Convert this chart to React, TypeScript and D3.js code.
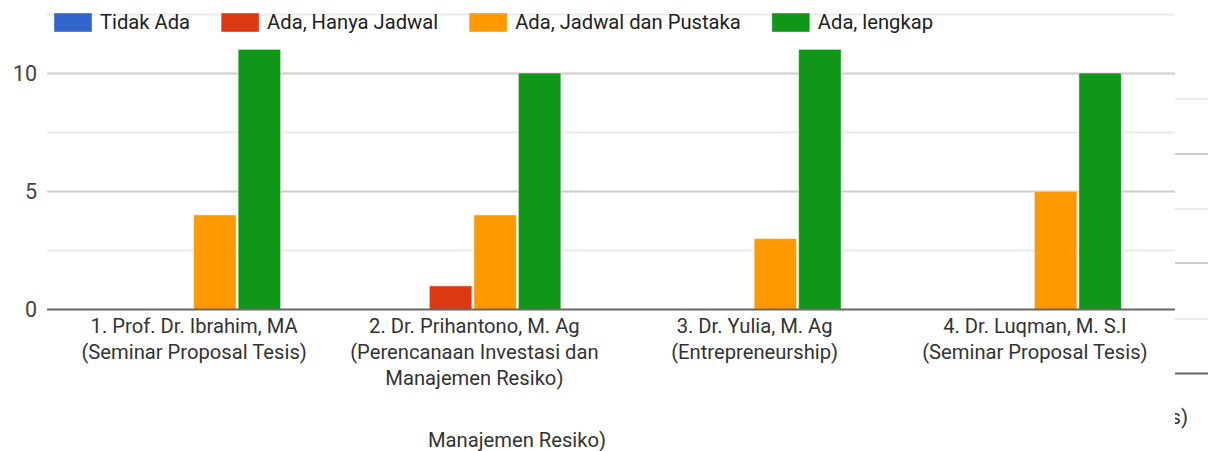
import React, { useEffect, useRef } from "react";
import * as d3 from "d3";

const categories = [
  ["1. Prof. Dr. Ibrahim, MA", "(Seminar Proposal Tesis)"],
  ["2. Dr. Prihantono, M. Ag", "(Perencanaan Investasi dan", "Manajemen Resiko)"],
  ["3. Dr. Yulia, M. Ag", "(Entrepreneurship)"],
  ["4. Dr. Luqman, M. S.I", "(Seminar Proposal Tesis)"],
];
const seriesNames = ["Tidak Ada", "Ada, Hanya Jadwal", "Ada, Jadwal dan Pustaka", "Ada, lengkap"];
const tidakAda = [0, 0, 0, 0];
const hanyaJadwal = [0, 1, 0, 0];
const jadwalPustaka = [4, 4, 3, 5];
const lengkap = [11, 10, 11, 10];
const colors = ["#3366cc", "#dc3912", "#ff9900", "#109618"];
const majorTicks = [0, 5, 10];
const minorTicks = [2.5, 7.5, 12.5];

const W = 1208;
const H = 451;
const FONT = "Roboto, Arial, sans-serif";
const FS_LEG = 20.2;
const FS_LAB = 20.2;
const FS_TICK = 21.5;

export default function App() {
  const ref = useRef<SVGSVGElement>(null);
  useEffect(() => {
    const svg = d3.select(ref.current);
    svg.selectAll("*").remove();
    const series = [tidakAda, hanyaJadwal, jadwalPustaka, lengkap];

    const gridLeft = 47, gridRight = 1175;
    const x0 = d3.scaleBand<number>().domain(d3.range(categories.length)).range([52.5, 1173.5]).paddingInner(0.372).paddingOuter(0.186);
    const x1 = d3.scaleBand<number>().domain(d3.range(series.length)).range([0, x0.bandwidth()]).paddingInner(0.045);
    const y = d3.scaleLinear().domain([0, 12.5]).range([309.5, 13.9]);

    const defs = svg.append("defs");
    defs.append("clipPath").attr("id", "rightClip").append("rect")
      .attr("x", gridRight).attr("y", 0).attr("width", W - gridRight).attr("height", H);

    svg.append("g").selectAll("line").data(minorTicks).join("line")
      .attr("x1", gridLeft).attr("x2", gridRight)
      .attr("y1", (d) => Math.round(y(d)) + 0.5).attr("y2", (d) => Math.round(y(d)) + 0.5)
      .attr("stroke", "#ebebeb").attr("stroke-width", 2);
    svg.append("g").selectAll("line").data(majorTicks.filter((d) => d !== 0)).join("line")
      .attr("x1", gridLeft).attr("x2", gridRight)
      .attr("y1", (d) => Math.round(y(d)) + 0.5).attr("y2", (d) => Math.round(y(d)) + 0.5)
      .attr("stroke", "#cccccc").attr("stroke-width", 2);

    // right-side artifact (overlapping chart behind)
    const art = svg.append("g").attr("clip-path", "url(#rightClip)");
    const artLight = [99, 209, 319];
    const artDark = [154, 263];
    art.append("g").selectAll("line").data(artLight).join("line")
      .attr("x1", gridRight).attr("x2", W).attr("y1", (d) => d).attr("y2", (d) => d)
      .attr("stroke", "#ebebeb").attr("stroke-width", 2);
    art.append("g").selectAll("line").data(artDark).join("line")
      .attr("x1", gridRight).attr("x2", W).attr("y1", (d) => d).attr("y2", (d) => d)
      .attr("stroke", "#cccccc").attr("stroke-width", 2);
    art.append("line").attr("x1", gridRight).attr("x2", W).attr("y1", 373.5).attr("y2", 373.5)
      .attr("stroke", "#666666").attr("stroke-width", 2);
    art.append("text").attr("x", 1188).attr("y", 424).attr("text-anchor", "end")
      .attr("font-family", FONT).attr("font-size", FS_LAB).attr("fill", "#333333").text("Tesis)");

    const g = svg.append("g");
    categories.forEach((_, ci) => {
      series.forEach((s, si) => {
        const v = s[ci];
        if (v <= 0) return;
        g.append("rect")
          .attr("x", x0(ci)! + x1(si)!)
          .attr("y", y(v))
          .attr("width", x1.bandwidth())
          .attr("height", y(0) - y(v))
          .attr("fill", colors[si])
          .attr("stroke", "#ffffff").attr("stroke-opacity", 0.5).attr("stroke-width", 1);
      });
    });

    svg.append("line").attr("x1", gridLeft).attr("x2", gridRight)
      .attr("y1", y(0)).attr("y2", y(0)).attr("stroke", "#666666").attr("stroke-width", 2);

    svg.append("g").selectAll("text").data(majorTicks).join("text")
      .attr("x", 37).attr("y", (d) => y(d)).attr("dy", "0.36em")
      .attr("text-anchor", "end").attr("font-family", FONT).attr("font-size", FS_TICK).attr("fill", "#444444")
      .text((d) => String(d));

    const xl = svg.append("g");
    categories.forEach((lines, ci) => {
      const cx = x0(ci)! + x0.bandwidth() / 2 + 1.5;
      lines.forEach((ln, li) => {
        xl.append("text").attr("x", cx).attr("y", 333 + li * 26)
          .attr("text-anchor", "middle").attr("font-family", FONT).attr("font-size", FS_LAB).attr("fill", "#333333")
          .text(ln);
      });
    });

    svg.append("text").attr("x", 517).attr("y", 447).attr("text-anchor", "middle")
      .attr("font-family", FONT).attr("font-size", FS_LAB).attr("fill", "#333333").text("Manajemen Resiko)");

    const lg = svg.append("g");
    let lx = 54;
    seriesNames.forEach((name, i) => {
      lg.append("rect").attr("x", lx).attr("y", 13).attr("width", 38).attr("height", 19)
        .attr("fill", colors[i]).attr("stroke", "#ffffff").attr("stroke-opacity", 0.4);
      const t = lg.append("text").attr("x", lx + 46).attr("y", 29)
        .attr("font-family", FONT).attr("font-size", FS_LEG).attr("fill", "#222222").text(name);
      const w = (t.node() as SVGTextElement).getComputedTextLength();
      lx = lx + 46 + w + 31;
    });
  }, []);
  return (
    <svg ref={ref} width={W} height={H} style={{ display: "block", position: "absolute", left: 0, top: 0, background: "#fff" }} />
  );
}
